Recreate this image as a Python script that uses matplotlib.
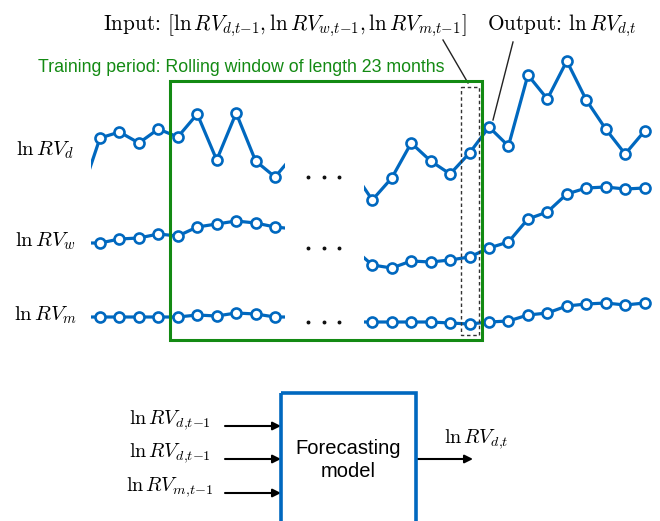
import numpy as np
import matplotlib
matplotlib.use('Agg')
import matplotlib.pyplot as plt
from matplotlib.patches import Rectangle

plt.rcParams['mathtext.fontset'] = 'cm'
plt.rcParams['font.family'] = ['Liberation Sans', 'DejaVu Sans']

# time indices (left block, right block), first/last entries sit outside the visible cut
idx_left = np.arange(-1, 11)
idx_right = np.arange(13, 29)

# series levels (arbitrary units)
rv_d_left = [-1.6, 4.2, 4.8, 3.7, 5.1, 4.3, 6.6, 2.0, 6.7, 1.9, 0.3, 2.6]
rv_d_right = [0.9, -2.0, 0.2, 3.7, 1.9, 0.6, 2.7, 5.3, 3.4, 10.5, 8.1, 11.9, 8.0, 5.1, 2.6, 4.9]
rv_w_left = [0.7, 0.7, 1.1, 1.2, 1.6, 1.4, 2.3, 2.6, 2.9, 2.7, 2.3, 2.1]
rv_w_right = [0.2, -1.5, -1.8, -1.1, -1.2, -1.0, -0.7, 0.2, 0.8, 3.1, 3.8, 5.6, 6.2, 6.3, 6.1, 6.2]
rv_m_left = [0.3, 0.3, 0.3, 0.3, 0.3, 0.3, 0.5, 0.4, 0.7, 0.6, 0.3, 0.3]
rv_m_right = [-0.2, -0.2, -0.2, -0.2, -0.2, -0.3, -0.4, -0.2, -0.1, 0.5, 0.7, 1.4, 1.6, 1.7, 1.5, 1.7]

row_labels = [r'$\ln RV_d$', r'$\ln RV_w$', r'$\ln RV_m$']
input_labels = [r'$\ln RV_{d{,}t{-}1}$', r'$\ln RV_{d{,}t{-}1}$', r'$\ln RV_{m{,}t{-}1}$']

BLUE = '#0068BF'
GREEN = '#138A13'

fig = plt.figure(figsize=(6.6, 5.21), dpi=100)
ax = fig.add_axes([0, 0, 1, 1])
ax.set_xlim(0, 660)
ax.set_ylim(521, 0)
ax.axis('off')

x0, step = 100, 19.45
rows = [(180, rv_d_left, rv_d_right), (250, rv_w_left, rv_w_right), (320, rv_m_left, rv_m_right)]
label_y = [150, 241, 315]
dots_y = [177, 248, 322]

for (base, left, right), lab, ly, dy in zip(rows, row_labels, label_y, dots_y):
    for idx, vals, (c0, c1) in [(idx_left, left, (91, 285)), (idx_right, right, (364, 660))]:
        xs = x0 + step * idx
        ys = base - 10 * np.array(vals)
        line, = ax.plot(xs, ys, color=BLUE, lw=2.3, marker='o', ms=7.2, mfc='white',
                        mec=BLUE, mew=1.9, markevery=slice(1, None if c1 == 660 else -1), zorder=3)
        line.set_clip_path(Rectangle((c0, 0), c1 - c0, 521, transform=ax.transData))
    ax.text(45, ly, lab, fontsize=15, ha='center', va='center')
    # the "..." gap marker
    ax.plot([308, 323.5, 339], [dy] * 3, ls='none', marker='o', ms=1.8, color='#111111')

# training window and input cell
ax.add_patch(Rectangle((170, 81), 312, 259, fill=False, ec=GREEN, lw=2.2, zorder=4))
ax.add_patch(Rectangle((461, 87), 18, 248, fill=False, ec='#333333', lw=1.0, ls=(0, (2.5, 2)), zorder=4))
ax.text(241, 68, 'Training period: Rolling window of length 23 months', color=GREEN,
        fontsize=12.8, ha='center', va='center')

ax.text(285, 26, r'Input: $[\ln RV_{d{,}t{-}1}, \ln RV_{w{,}t{-}1}, \ln RV_{m{,}t{-}1}]$',
        family='cmr10', fontsize=15.3, ha='center', va='center')
ax.text(562, 26, r'Output: $\ln RV_{d{,}t}$', family='cmr10', fontsize=15.3, ha='center', va='center')
ax.plot([443, 468], [40, 83], color='#222222', lw=1.0)
ax.plot([513, 493], [42, 120], color='#222222', lw=1.0)

# model block
ax.add_patch(Rectangle((281, 393), 135, 150, fill=False, ec=BLUE, lw=2.6, zorder=4))
ax.text(348, 460, 'Forecasting\nmodel', fontsize=14.5, ha='center', va='center', linespacing=1.25)
for lab, ay in zip(input_labels, [426, 459, 493]):
    ax.annotate('', xy=(281, ay), xytext=(225, ay),
                arrowprops=dict(arrowstyle='-|>', color='k', lw=1.5, mutation_scale=12,
                                shrinkA=0, shrinkB=0))
    ax.text(170, ay - 6, lab, fontsize=14.5, ha='center', va='center')
ax.annotate('', xy=(473, 459), xytext=(416, 459),
            arrowprops=dict(arrowstyle='-|>', color='k', lw=1.5, mutation_scale=12,
                            shrinkA=0, shrinkB=0))
ax.text(476, 439, r'$\ln RV_{d{,}t}$', fontsize=14.5, ha='center', va='center')

fig.savefig('out.png', dpi=100)
